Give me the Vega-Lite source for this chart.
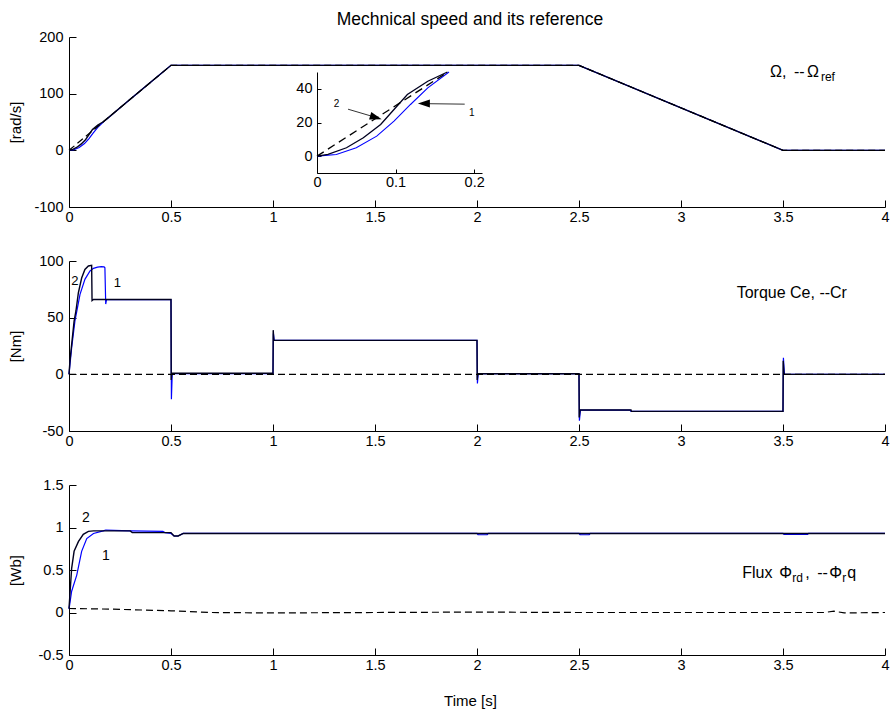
{
 "$schema": "https://vega.github.io/schema/vega-lite/v6.json",
 "padding": {"left": 8, "top": 10, "right": 5, "bottom": 5},
 "background": "white",
 "spacing": 54,
 "bounds": "flush",
 "title": {"text": "Mechnical speed and its reference", "font": "Liberation Sans", "fontSize": 17.5, "fontWeight": "normal", "color": "#000", "anchor": "middle", "frame": "group", "baseline": "alphabetic", "offset": -13, "dx": -7},
 "config": {
  "view": {"stroke": null},
  "font": "Liberation Sans",
  "axis": {"grid": false, "domainColor": "#000", "domainWidth": 1, "tickColor": "#000", "tickWidth": 1, "tickSize": -7,
   "labelFont": "Liberation Sans", "labelFontSize": 14.5, "labelColor": "#000", "labelFlush": false, "labelOverlap": false,
   "labelExpr": "'' + datum.value", "titleFont": "Liberation Sans", "titleFontSize": 15, "titleFontWeight": "normal", "titleColor": "#000"},
  "axisX": {"labelPadding": 10},
  "axisY": {"labelPadding": 13}
 },
 "datasets": {
  "one": [{"n": 1}],
  "speed": [
   {"s":"1","t":0,"v":0},{"s":"1","t":0.0246,"v":1},{"s":"1","t":0.05,"v":5},{"s":"1","t":0.076,"v":11.9},{"s":"1","t":0.098,"v":20.8},{"s":"1","t":0.119,"v":30.7},{"s":"1","t":0.141,"v":40.6},{"s":"1","t":0.168,"v":50},{"s":"1","t":0.2,"v":59.5},{"s":"1","t":0.25,"v":75},{"s":"1","t":0.3,"v":90},{"s":"1","t":0.4,"v":120},{"s":"1","t":0.5,"v":150},{"s":"1","t":2.5,"v":150},{"s":"1","t":3.5,"v":0},{"s":"1","t":4,"v":0},
   {"s":"2","t":0,"v":0},{"s":"2","t":0.014,"v":1},{"s":"2","t":0.0375,"v":5},{"s":"2","t":0.059,"v":10.9},{"s":"2","t":0.081,"v":18.8},{"s":"2","t":0.098,"v":27.7},{"s":"2","t":0.115,"v":36.6},{"s":"2","t":0.141,"v":44.5},{"s":"2","t":0.166,"v":50},{"s":"2","t":0.2,"v":60},{"s":"2","t":0.3,"v":90},{"s":"2","t":0.4,"v":120},{"s":"2","t":0.5,"v":150},{"s":"2","t":2.5,"v":150},{"s":"2","t":3.5,"v":0},{"s":"2","t":4,"v":0},
   {"s":"ref","t":0,"v":0},{"s":"ref","t":0.5,"v":150},{"s":"ref","t":2.5,"v":150},{"s":"ref","t":3.5,"v":0},{"s":"ref","t":4,"v":0}
  ],
  "inset": [
   {"s":"1","t":0,"v":0},{"s":"1","t":0.0246,"v":1},{"s":"1","t":0.05,"v":5},{"s":"1","t":0.076,"v":11.9},{"s":"1","t":0.098,"v":20.8},{"s":"1","t":0.119,"v":30.7},{"s":"1","t":0.141,"v":40.6},{"s":"1","t":0.168,"v":50},
   {"s":"2","t":0,"v":0},{"s":"2","t":0.014,"v":1},{"s":"2","t":0.0375,"v":5},{"s":"2","t":0.059,"v":10.9},{"s":"2","t":0.081,"v":18.8},{"s":"2","t":0.098,"v":27.7},{"s":"2","t":0.115,"v":36.6},{"s":"2","t":0.141,"v":44.5},{"s":"2","t":0.166,"v":50},
   {"s":"ref","t":0,"v":0},{"s":"ref","t":0.1667,"v":50}
  ],
  "torque": [
   {"s":"1","t":0,"v":0},{"s":"1","t":0.013,"v":23.5},{"s":"1","t":0.029,"v":47},{"s":"1","t":0.054,"v":70.6},{"s":"1","t":0.078,"v":83.8},{"s":"1","t":0.103,"v":91.2},{"s":"1","t":0.12,"v":93.5},{"s":"1","t":0.14,"v":94.6},{"s":"1","t":0.158,"v":95},{"s":"1","t":0.172,"v":94.8},{"s":"1","t":0.176,"v":94},{"s":"1","t":0.18,"v":62},{"s":"1","t":0.184,"v":66},{"s":"1","t":0.5,"v":66},{"s":"1","t":0.502,"v":-22},{"s":"1","t":0.506,"v":0.5},{"s":"1","t":1,"v":0.5},{"s":"1","t":1.002,"v":36},{"s":"1","t":1.006,"v":30},{"s":"1","t":2,"v":30},{"s":"1","t":2.002,"v":-8},{"s":"1","t":2.006,"v":0.5},{"s":"1","t":2.5,"v":0.5},{"s":"1","t":2.502,"v":-41},{"s":"1","t":2.507,"v":-31.5},{"s":"1","t":2.75,"v":-31.5},{"s":"1","t":2.755,"v":-32.7},{"s":"1","t":3.5,"v":-32.7},{"s":"1","t":3.502,"v":14.7},{"s":"1","t":3.507,"v":0},{"s":"1","t":4,"v":0},
   {"s":"2","t":0,"v":0},{"s":"2","t":0.004,"v":10},{"s":"2","t":0.008,"v":17.6},{"s":"2","t":0.025,"v":47},{"s":"2","t":0.034,"v":55.9},{"s":"2","t":0.046,"v":72},{"s":"2","t":0.062,"v":85},{"s":"2","t":0.078,"v":92.6},{"s":"2","t":0.095,"v":95.6},{"s":"2","t":0.111,"v":96.2},{"s":"2","t":0.113,"v":65},{"s":"2","t":0.12,"v":66},{"s":"2","t":0.5,"v":66},{"s":"2","t":0.501,"v":-5},{"s":"2","t":0.504,"v":1},{"s":"2","t":1,"v":1},{"s":"2","t":1.001,"v":39},{"s":"2","t":1.004,"v":30},{"s":"2","t":2,"v":30},{"s":"2","t":2.001,"v":-5},{"s":"2","t":2.004,"v":0.5},{"s":"2","t":2.5,"v":0.5},{"s":"2","t":2.501,"v":-38},{"s":"2","t":2.505,"v":-31.5},{"s":"2","t":2.755,"v":-31.5},{"s":"2","t":2.757,"v":-32.7},{"s":"2","t":3.5,"v":-32.7},{"s":"2","t":3.501,"v":12},{"s":"2","t":3.505,"v":0},{"s":"2","t":4,"v":0},
   {"s":"ref","t":0,"v":0},{"s":"ref","t":4,"v":0}
  ],
  "flux": [
   {"s":"1","t":0,"v":0.04},{"s":"1","t":0.013,"v":0.25},{"s":"1","t":0.038,"v":0.44},{"s":"1","t":0.062,"v":0.72},{"s":"1","t":0.087,"v":0.87},{"s":"1","t":0.12,"v":0.93},{"s":"1","t":0.168,"v":0.96},{"s":"1","t":0.18,"v":0.97},{"s":"1","t":0.3,"v":0.96},{"s":"1","t":0.46,"v":0.955},{"s":"1","t":0.47,"v":0.94},{"s":"1","t":0.5,"v":0.93},{"s":"1","t":0.515,"v":0.9},{"s":"1","t":0.535,"v":0.9},{"s":"1","t":0.56,"v":0.93},{"s":"1","t":0.85,"v":0.93},{"s":"1","t":2,"v":0.93},{"s":"1","t":2.005,"v":0.915},{"s":"1","t":2.05,"v":0.915},{"s":"1","t":2.055,"v":0.93},{"s":"1","t":2.5,"v":0.93},{"s":"1","t":2.505,"v":0.915},{"s":"1","t":2.55,"v":0.915},{"s":"1","t":2.555,"v":0.93},{"s":"1","t":3.5,"v":0.93},{"s":"1","t":3.505,"v":0.92},{"s":"1","t":3.62,"v":0.92},{"s":"1","t":3.625,"v":0.93},{"s":"1","t":4,"v":0.93},
   {"s":"2","t":0,"v":0.047},{"s":"2","t":0.013,"v":0.52},{"s":"2","t":0.025,"v":0.72},{"s":"2","t":0.046,"v":0.834},{"s":"2","t":0.07,"v":0.92},{"s":"2","t":0.095,"v":0.955},{"s":"2","t":0.12,"v":0.96},{"s":"2","t":0.3,"v":0.96},{"s":"2","t":0.31,"v":0.94},{"s":"2","t":0.5,"v":0.94},{"s":"2","t":0.515,"v":0.9},{"s":"2","t":0.535,"v":0.9},{"s":"2","t":0.56,"v":0.93},{"s":"2","t":4,"v":0.93},
   {"s":"ref","t":0,"v":0.047},{"s":"ref","t":0.2,"v":0.04},{"s":"ref","t":0.5,"v":0.02},{"s":"ref","t":0.7,"v":0},{"s":"ref","t":1,"v":-0.005},{"s":"ref","t":2,"v":0.005},{"s":"ref","t":2.5,"v":0},{"s":"ref","t":3.7,"v":0},{"s":"ref","t":3.75,"v":0.015},{"s":"ref","t":3.8,"v":-0.005},{"s":"ref","t":4,"v":0}
  ]
 },
 "vconcat": [
  {
   "width": 816, "height": 170,
   "layer": [
    {
     "layer": [
      {"data": {"name": "speed"}, "transform": [{"filter": "datum.s === '1'"}], "mark": {"type": "line", "color": "#0000ff", "strokeWidth": 1.2},
       "encoding": {
        "x": {"field": "t", "type": "quantitative", "scale": {"domain": [0, 4], "nice": false, "zero": false}, "axis": {"values": [0,0.5,1,1.5,2,2.5,3,3.5,4], "title": null}},
        "y": {"field": "v", "type": "quantitative", "scale": {"domain": [-100, 200], "nice": false, "zero": false}, "axis": {"values": [-100,0,100,200], "title": "[rad/s]", "titleX": -54, "titleBaseline": "middle"}}
       }},
      {"data": {"name": "speed"}, "transform": [{"filter": "datum.s === '2'"}], "mark": {"type": "line", "color": "#000020", "strokeWidth": 1.4},
       "encoding": {"x": {"field": "t", "type": "quantitative"}, "y": {"field": "v", "type": "quantitative"}}},
      {"data": {"name": "speed"}, "transform": [{"filter": "datum.s === 'ref'"}], "mark": {"type": "line", "color": "#000000", "strokeWidth": 1.2, "strokeDash": [7, 4]},
       "encoding": {"x": {"field": "t", "type": "quantitative"}, "y": {"field": "v", "type": "quantitative"}}},
      {"data": {"name": "one"}, "mark": {"type": "text", "text": "Ω,", "align": "left", "baseline": "alphabetic", "fontSize": 16, "font": "Liberation Sans", "color": "#000"}, "encoding": {"x": {"datum": 3.436, "type": "quantitative"}, "y": {"datum": 129.2, "type": "quantitative"}}},
      {"data": {"name": "one"}, "mark": {"type": "text", "text": "--", "align": "left", "baseline": "alphabetic", "fontSize": 16, "font": "Liberation Sans", "color": "#000", "dx": 24}, "encoding": {"x": {"datum": 3.436, "type": "quantitative"}, "y": {"datum": 129.2, "type": "quantitative"}}},
      {"data": {"name": "one"}, "mark": {"type": "text", "text": "Ω", "align": "left", "baseline": "alphabetic", "fontSize": 16, "font": "Liberation Sans", "color": "#000", "dx": 37}, "encoding": {"x": {"datum": 3.436, "type": "quantitative"}, "y": {"datum": 129.2, "type": "quantitative"}}},
      {"data": {"name": "one"}, "mark": {"type": "text", "text": "ref", "align": "left", "baseline": "alphabetic", "fontSize": 12, "font": "Liberation Sans", "color": "#000", "dx": 51, "dy": 4}, "encoding": {"x": {"datum": 3.436, "type": "quantitative"}, "y": {"datum": 129.2, "type": "quantitative"}}}
     ]
    },
    {
     "layer": [
      {"data": {"name": "inset"}, "transform": [{"filter": "datum.s === '1'"}], "mark": {"type": "line", "color": "#0000ff", "strokeWidth": 1.1},
       "encoding": {
        "x": {"field": "t", "type": "quantitative", "scale": {"domain": [0, 0.21], "range": [248, 413], "nice": false, "zero": false}, "axis": {"orient": "bottom", "offset": -34, "values": [0, 0.1, 0.2], "title": null, "tickSize": -4, "labelPadding": 6}},
        "y": {"field": "v", "type": "quantitative", "scale": {"domain": [-10, 50], "range": [136, 35], "nice": false, "zero": false}, "axis": {"orient": "left", "offset": -248, "values": [0, 20, 40], "title": null, "tickSize": -4, "labelPadding": 9}}
       }},
      {"data": {"name": "inset"}, "transform": [{"filter": "datum.s === '2'"}], "mark": {"type": "line", "color": "#000020", "strokeWidth": 1.3},
       "encoding": {"x": {"field": "t", "type": "quantitative"}, "y": {"field": "v", "type": "quantitative"}}},
      {"data": {"name": "inset"}, "transform": [{"filter": "datum.s === 'ref'"}], "mark": {"type": "line", "color": "#000000", "strokeWidth": 1.3, "strokeDash": [8, 5]},
       "encoding": {"x": {"field": "t", "type": "quantitative"}, "y": {"field": "v", "type": "quantitative"}}},
      {"data": {"name": "one"}, "mark": {"type": "rule", "color": "#333", "strokeWidth": 1}, "encoding": {"x": {"datum": 0.0395, "type": "quantitative"}, "y": {"datum": 27.9, "type": "quantitative"}, "x2": {"datum": 0.075}, "y2": {"datum": 23.0}}},
      {"data": {"name": "one"}, "mark": {"type": "rule", "color": "#333", "strokeWidth": 1}, "encoding": {"x": {"datum": 0.188, "type": "quantitative"}, "y": {"datum": 30.9, "type": "quantitative"}, "x2": {"datum": 0.136}, "y2": {"datum": 31.2}}},
      {"data": {"name": "one"}, "mark": {"type": "point", "shape": "M1,0L-1,-0.65L-1,0.65Z", "filled": true, "color": "#000", "opacity": 1, "size": 144, "angle": 16.5, "strokeWidth": 0}, "encoding": {"x": {"datum": 0.075, "type": "quantitative"}, "y": {"datum": 23.0, "type": "quantitative"}}},
      {"data": {"name": "one"}, "mark": {"type": "point", "shape": "M1,0L-1,-0.65L-1,0.65Z", "filled": true, "color": "#000", "opacity": 1, "size": 144, "angle": 180, "strokeWidth": 0}, "encoding": {"x": {"datum": 0.136, "type": "quantitative"}, "y": {"datum": 31.3, "type": "quantitative"}}},
      {"data": {"name": "one"}, "mark": {"type": "text", "text": "2", "align": "center", "baseline": "middle", "fontSize": 10, "font": "Liberation Sans", "color": "#000"}, "encoding": {"x": {"datum": 0.025, "type": "quantitative"}, "y": {"datum": 30.9, "type": "quantitative"}}},
      {"data": {"name": "one"}, "mark": {"type": "text", "text": "1", "align": "center", "baseline": "middle", "fontSize": 10, "font": "Liberation Sans", "color": "#000"}, "encoding": {"x": {"datum": 0.197, "type": "quantitative"}, "y": {"datum": 25.5, "type": "quantitative"}}}
     ]
    }
   ],
   "resolve": {"scale": {"x": "independent", "y": "independent"}, "axis": {"x": "independent", "y": "independent"}}
  },
  {
   "width": 816, "height": 170,
   "layer": [
    {"data": {"name": "torque"}, "transform": [{"filter": "datum.s === '1'"}], "mark": {"type": "line", "color": "#0000ff", "strokeWidth": 1.2},
     "encoding": {
      "x": {"field": "t", "type": "quantitative", "scale": {"domain": [0, 4], "nice": false, "zero": false}, "axis": {"values": [0,0.5,1,1.5,2,2.5,3,3.5,4], "title": null}},
      "y": {"field": "v", "type": "quantitative", "scale": {"domain": [-50, 100], "nice": false, "zero": false}, "axis": {"values": [-50,0,50,100], "title": "[Nm]", "titleX": -54, "titleBaseline": "middle"}}
     }},
    {"data": {"name": "torque"}, "transform": [{"filter": "datum.s === '2'"}], "mark": {"type": "line", "color": "#000020", "strokeWidth": 1.4},
     "encoding": {"x": {"field": "t", "type": "quantitative"}, "y": {"field": "v", "type": "quantitative"}}},
    {"data": {"name": "torque"}, "transform": [{"filter": "datum.s === 'ref'"}], "mark": {"type": "line", "color": "#000000", "strokeWidth": 1.2, "strokeDash": [7, 4]},
     "encoding": {"x": {"field": "t", "type": "quantitative"}, "y": {"field": "v", "type": "quantitative"}}},
    {"data": {"name": "one"}, "mark": {"type": "text", "text": "Torque Ce, --Cr", "align": "left", "baseline": "alphabetic", "fontSize": 16, "font": "Liberation Sans", "color": "#000"}, "encoding": {"x": {"datum": 3.273, "type": "quantitative"}, "y": {"datum": 67.6, "type": "quantitative"}}},
    {"data": {"name": "one"}, "mark": {"type": "text", "text": "2", "align": "center", "baseline": "middle", "fontSize": 13, "font": "Liberation Sans", "color": "#000"}, "encoding": {"x": {"datum": 0.029, "type": "quantitative"}, "y": {"datum": 82.3, "type": "quantitative"}}},
    {"data": {"name": "one"}, "mark": {"type": "text", "text": "1", "align": "center", "baseline": "middle", "fontSize": 13, "font": "Liberation Sans", "color": "#000"}, "encoding": {"x": {"datum": 0.237, "type": "quantitative"}, "y": {"datum": 80.8, "type": "quantitative"}}}
   ]
  },
  {
   "width": 816, "height": 170,
   "layer": [
    {"data": {"name": "flux"}, "transform": [{"filter": "datum.s === '1'"}], "mark": {"type": "line", "color": "#0000ff", "strokeWidth": 1.2},
     "encoding": {
      "x": {"field": "t", "type": "quantitative", "scale": {"domain": [0, 4], "nice": false, "zero": false}, "axis": {"values": [0,0.5,1,1.5,2,2.5,3,3.5,4], "title": "Time [s]", "titleX": 401, "titleY": 45, "titleBaseline": "middle"}},
      "y": {"field": "v", "type": "quantitative", "scale": {"domain": [-0.5, 1.5], "nice": false, "zero": false}, "axis": {"values": [-0.5,0,0.5,1,1.5], "title": "[Wb]", "titleX": -54, "titleBaseline": "middle"}}
     }},
    {"data": {"name": "flux"}, "transform": [{"filter": "datum.s === '2'"}], "mark": {"type": "line", "color": "#000020", "strokeWidth": 1.4},
     "encoding": {"x": {"field": "t", "type": "quantitative"}, "y": {"field": "v", "type": "quantitative"}}},
    {"data": {"name": "flux"}, "transform": [{"filter": "datum.s === 'ref'"}], "mark": {"type": "line", "color": "#000000", "strokeWidth": 1.2, "strokeDash": [7, 4]},
     "encoding": {"x": {"field": "t", "type": "quantitative"}, "y": {"field": "v", "type": "quantitative"}}},
    {"data": {"name": "one"}, "mark": {"type": "text", "text": "Flux", "align": "left", "baseline": "alphabetic", "fontSize": 16, "font": "Liberation Sans", "color": "#000"}, "encoding": {"x": {"datum": 3.3, "type": "quantitative"}, "y": {"datum": 0.403, "type": "quantitative"}}},
    {"data": {"name": "one"}, "mark": {"type": "text", "text": "Φ", "align": "left", "baseline": "alphabetic", "fontSize": 16, "font": "Liberation Sans", "color": "#000", "dx": 37}, "encoding": {"x": {"datum": 3.3, "type": "quantitative"}, "y": {"datum": 0.403, "type": "quantitative"}}},
    {"data": {"name": "one"}, "mark": {"type": "text", "text": "rd", "align": "left", "baseline": "alphabetic", "fontSize": 12, "font": "Liberation Sans", "color": "#000", "dx": 50, "dy": 4}, "encoding": {"x": {"datum": 3.3, "type": "quantitative"}, "y": {"datum": 0.403, "type": "quantitative"}}},
    {"data": {"name": "one"}, "mark": {"type": "text", "text": ",", "align": "left", "baseline": "alphabetic", "fontSize": 16, "font": "Liberation Sans", "color": "#000", "dx": 63}, "encoding": {"x": {"datum": 3.3, "type": "quantitative"}, "y": {"datum": 0.403, "type": "quantitative"}}},
    {"data": {"name": "one"}, "mark": {"type": "text", "text": "--", "align": "left", "baseline": "alphabetic", "fontSize": 16, "font": "Liberation Sans", "color": "#000", "dx": 75}, "encoding": {"x": {"datum": 3.3, "type": "quantitative"}, "y": {"datum": 0.403, "type": "quantitative"}}},
    {"data": {"name": "one"}, "mark": {"type": "text", "text": "Φ", "align": "left", "baseline": "alphabetic", "fontSize": 16, "font": "Liberation Sans", "color": "#000", "dx": 87}, "encoding": {"x": {"datum": 3.3, "type": "quantitative"}, "y": {"datum": 0.403, "type": "quantitative"}}},
    {"data": {"name": "one"}, "mark": {"type": "text", "text": "r", "align": "left", "baseline": "alphabetic", "fontSize": 12, "font": "Liberation Sans", "color": "#000", "dx": 100, "dy": 4}, "encoding": {"x": {"datum": 3.3, "type": "quantitative"}, "y": {"datum": 0.403, "type": "quantitative"}}},
    {"data": {"name": "one"}, "mark": {"type": "text", "text": "q", "align": "left", "baseline": "alphabetic", "fontSize": 16, "font": "Liberation Sans", "color": "#000", "dx": 105}, "encoding": {"x": {"datum": 3.3, "type": "quantitative"}, "y": {"datum": 0.403, "type": "quantitative"}}},
    {"data": {"name": "one"}, "mark": {"type": "text", "text": "2", "align": "center", "baseline": "middle", "fontSize": 14, "font": "Liberation Sans", "color": "#000"}, "encoding": {"x": {"datum": 0.083, "type": "quantitative"}, "y": {"datum": 1.108, "type": "quantitative"}}},
    {"data": {"name": "one"}, "mark": {"type": "text", "text": "1", "align": "center", "baseline": "middle", "fontSize": 14, "font": "Liberation Sans", "color": "#000"}, "encoding": {"x": {"datum": 0.181, "type": "quantitative"}, "y": {"datum": 0.661, "type": "quantitative"}}}
   ]
  }
 ]
}
